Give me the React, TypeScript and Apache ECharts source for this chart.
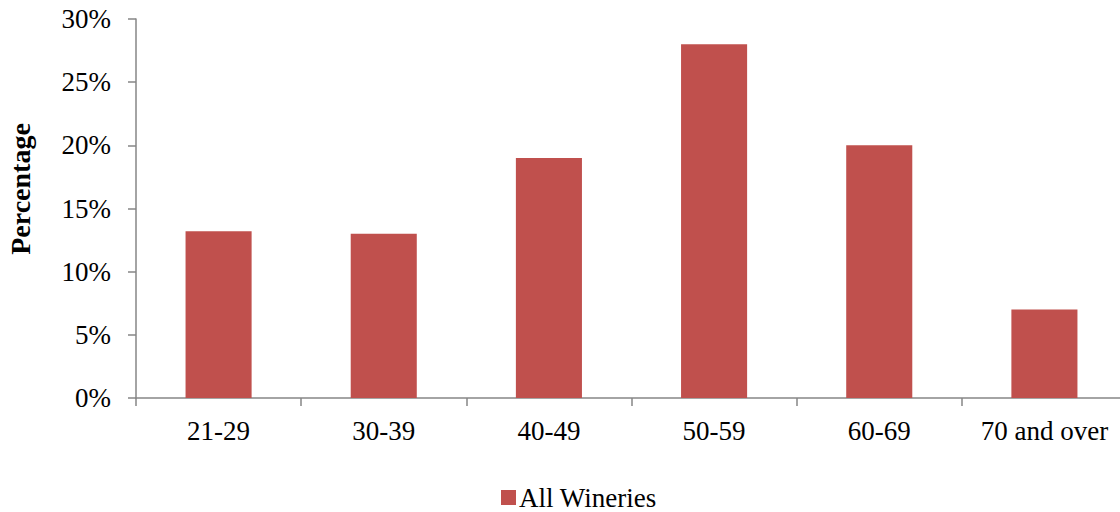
import React, { useEffect, useRef } from "react";
import * as echarts from "echarts";

const categories = ["21-29", "30-39", "40-49", "50-59", "60-69", "70 and over"];
const allWineries = [13.2, 13, 19, 28, 20, 7];
const seriesName = "All Wineries";
const yTitle = "Percentage";

export default function App() {
  const ref = useRef<HTMLDivElement>(null);
  useEffect(() => {
    if (!ref.current) return;
    const chart = echarts.init(ref.current, null, { renderer: "svg" });
    const font = "'Liberation Serif', 'Times New Roman', serif";
    chart.setOption({
      animation: false,
      backgroundColor: "#ffffff",
      textStyle: { fontFamily: font },
      grid: { left: 136, top: 19, bottom: 114, width: 991, containLabel: false },
      legend: {
        data: [seriesName],
        top: 479,
        left: 496,
        itemWidth: 15,
        itemHeight: 15,
        itemGap: 5,
        icon: "rect",
        textStyle: { fontFamily: font, fontSize: 27, color: "#000", padding: [0, 0, 0, -2] },
      },
      graphic: [
        {
          type: "text",
          x: 20,
          y: 189,
          rotation: Math.PI / 2,
          style: {
            text: yTitle,
            fontFamily: font,
            fontSize: 28,
            fontWeight: "bold",
            fill: "#000",
            textAlign: "center",
            textVerticalAlign: "middle",
          },
        },
      ],
      xAxis: {
        type: "category",
        data: categories,
        axisLine: { lineStyle: { color: "#868686", width: 1.5 } },
        axisTick: { show: true, length: 8, lineStyle: { color: "#868686", width: 1.5 } },
        axisLabel: { color: "#000", fontSize: 27, fontFamily: font, margin: 19, interval: 0 },
      },
      yAxis: {
        type: "value",
        min: 0,
        max: 30,
        interval: 5,
        axisLine: { show: true, lineStyle: { color: "#868686", width: 1.5 } },
        axisTick: { show: true, length: 8, lineStyle: { color: "#868686", width: 1.5 } },
        splitLine: { show: false },
        axisLabel: {
          color: "#000",
          fontSize: 27,
          fontFamily: font,
          margin: 25,
          formatter: (v: number) => v + "%",
        },
      },
      series: [
        {
          name: seriesName,
          type: "bar",
          data: allWineries,
          barWidth: "40%",
          itemStyle: { color: "#C0504D" },
        },
      ],
    });
    return () => chart.dispose();
  }, []);
  return (
    <div
      style={{
        position: "fixed",
        left: 0,
        top: 0,
        width: 1120,
        height: 512,
        overflow: "hidden",
        background: "#fff",
      }}
    >
      <div ref={ref} style={{ width: 1140, height: 512 }} />
    </div>
  );
}
